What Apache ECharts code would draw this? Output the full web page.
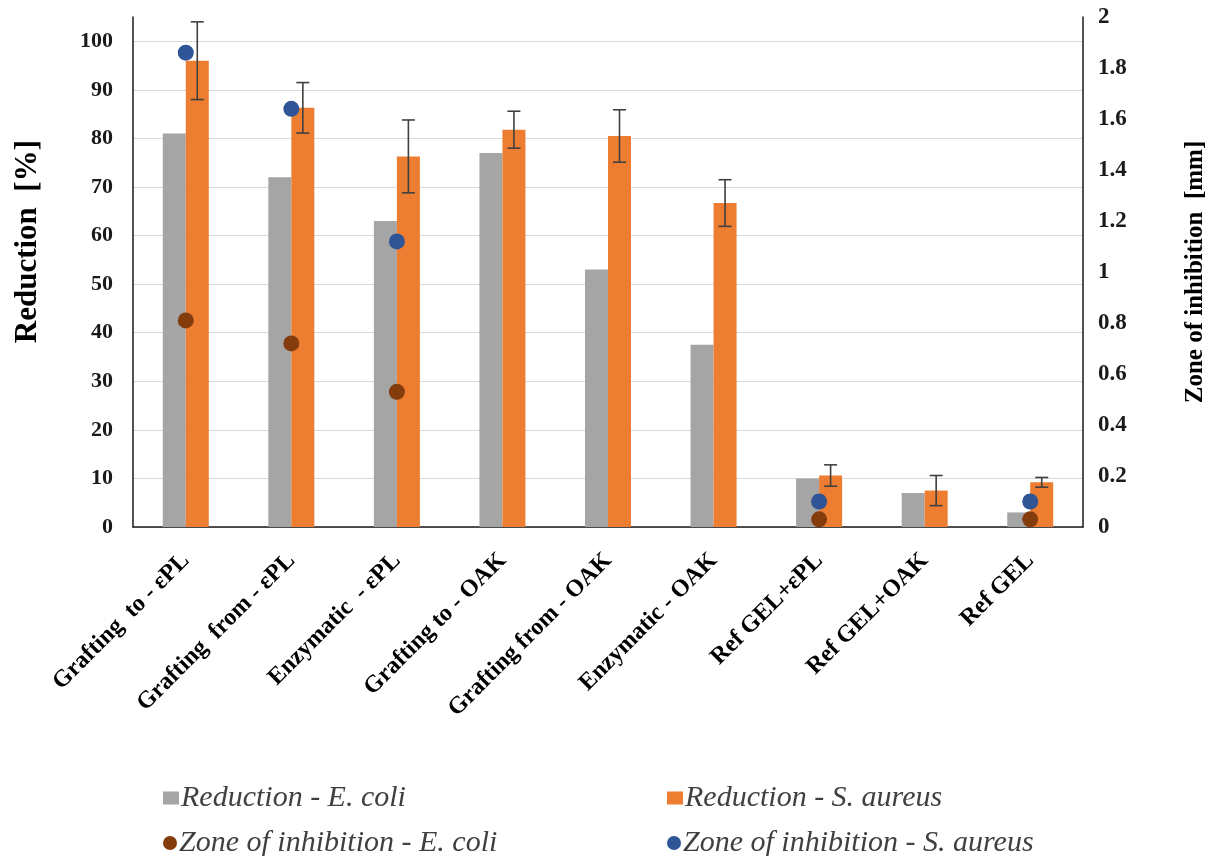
<!DOCTYPE html>
<html>
<head>
<meta charset="utf-8">
<title>Reduction and zone of inhibition</title>
<script src="https://cdn.jsdelivr.net/npm/echarts@6/dist/echarts.min.js"></script>
<style>
  html, body { margin: 0; padding: 0; background: #ffffff; }
  #chart { width: 1222px; height: 856px; }
</style>
</head>
<body>
<div id="chart"></div>
<script>
// Sample groups along the x axis
const categories = [
  'Grafting  to - εPL', 'Grafting  from - εPL', 'Enzymatic  - εPL',
  'Grafting to - OAK', 'Grafting from - OAK', 'Enzymatic - OAK',
  'Ref GEL+εPL', 'Ref GEL+OAK', 'Ref GEL'
];

// Bacterial reduction [%]
const reductionEcoli   = [81, 72, 63, 77, 53, 37.5, 10, 7, 3];
const reductionSaureus = [96, 86.3, 76.3, 81.8, 80.5, 66.7, 10.6, 7.5, 9.2];
// Standard deviation of the S. aureus reduction
const errSaureus       = [8, 5.2, 7.5, 3.8, 5.4, 4.8, 2.2, 3.1, 1.0];

// Zone of inhibition [mm] (no zone measured where null)
const zoneEcoli   = [0.81, 0.72, 0.53, null, null, null, 0.03, null, 0.03];
const zoneSaureus = [1.86, 1.64, 1.12, null, null, null, 0.10, null, 0.10];

// Axis tick ranges
const leftAxisRange  = { min: 0, max: 105, step: 10 };
const rightAxisRange = { min: 0, max: 2, step: 0.2 };

const seriesNames = [
  'Reduction - E. coli',
  'Reduction - S. aureus',
  'Zone of inhibition - E. coli',
  'Zone of inhibition - S. aureus'
];

const COLORS = {
  gray: '#A5A5A5',
  orange: '#ED7D31',
  brown: '#843C0C',
  blue: '#2F5597',
  err: '#404040'
};

const SERIF = '"Liberation Serif", "Times New Roman", serif';
const BAR_W = 23;

const chart = echarts.init(document.getElementById('chart'), null, { renderer: 'canvas' });

function legendBlock(name, left, top, icon, w, h) {
  return {
    data: [{ name: name, icon: icon }],
    left: left,
    top: top,
    itemWidth: w,
    itemHeight: h,
    itemGap: 0,
    selectedMode: false,
    textStyle: {
      fontFamily: SERIF,
      fontStyle: 'italic',
      fontSize: 30,
      color: '#404040',
      padding: [0, 0, 0, -3]
    }
  };
}

const option = {
  backgroundColor: '#ffffff',
  animation: false,
  grid: { left: 133, right: 139, top: 17, bottom: 329, containLabel: false },
  legend: [
    legendBlock(seriesNames[0], 158, 778, 'rect', 16, 13),
    legendBlock(seriesNames[1], 662, 778, 'rect', 16, 13),
    legendBlock(seriesNames[2], 158, 823, 'circle', 14, 14),
    legendBlock(seriesNames[3], 662, 823, 'circle', 14, 14)
  ],
  graphic: [{
    type: 'text',
    left: 12,
    top: 140,
    style: {
      text: 'Reduction  [%]',
      fontFamily: SERIF,
      fontWeight: 'bold',
      fontSize: 31,
      fill: '#000000'
    },
    rotation: Math.PI / 2,
    originX: 0,
    originY: 0
  }],
  xAxis: {
    type: 'category',
    data: categories,
    axisLine: { show: true, lineStyle: { color: '#1a1a1a', width: 1.5 } },
    axisTick: { show: false },
    splitLine: { show: false },
    axisLabel: {
      interval: 0,
      rotate: 45,
      margin: 30,
      fontFamily: SERIF,
      fontWeight: 'bold',
      fontSize: 24,
      color: '#000000'
    }
  },
  yAxis: [{
    type: 'value',
    min: leftAxisRange.min,
    max: leftAxisRange.max,
    interval: leftAxisRange.step,
    position: 'left',
    axisLine: { show: true, lineStyle: { color: '#1a1a1a', width: 1.5 } },
    axisTick: { show: false },
    splitLine: { show: true, showMaxLine: false, lineStyle: { color: '#D9D9D9', width: 1.2 } },
    axisLabel: {
      showMaxLabel: false,
      margin: 20,
      fontFamily: SERIF,
      fontWeight: 'bold',
      fontSize: 22,
      color: '#1a1a1a'
    }
  }, {
    type: 'value',
    min: rightAxisRange.min,
    max: rightAxisRange.max,
    interval: rightAxisRange.step,
    position: 'right',
    name: 'Zone of inhibition  [mm]',
    nameLocation: 'middle',
    nameGap: 100,
    nameRotate: 90,
    nameTextStyle: {
      fontFamily: SERIF,
      fontWeight: 'bold',
      fontSize: 25,
      color: '#000000'
    },
    axisLine: { show: true, lineStyle: { color: '#1a1a1a', width: 1.5 } },
    axisTick: { show: false },
    splitLine: { show: false },
    axisLabel: {
      margin: 15,
      fontFamily: SERIF,
      fontWeight: 'bold',
      fontSize: 23,
      color: '#1a1a1a',
      formatter: function (v) { return String(Math.round(v * 10) / 10); }
    }
  }],
  series: [{
    name: seriesNames[0],
    type: 'bar',
    yAxisIndex: 0,
    data: reductionEcoli,
    barWidth: BAR_W,
    barGap: '0%',
    itemStyle: { color: COLORS.gray },
    z: 2
  }, {
    name: seriesNames[1],
    type: 'bar',
    yAxisIndex: 0,
    data: reductionSaureus,
    barWidth: BAR_W,
    barGap: '0%',
    itemStyle: { color: COLORS.orange },
    z: 2
  }, {
    // error bars on the S. aureus reduction bars
    type: 'custom',
    yAxisIndex: 0,
    z: 3,
    silent: true,
    data: reductionSaureus.map(function (v, i) { return [i, v, errSaureus[i]]; }),
    renderItem: function (params, api) {
      const i = api.value(0);
      const mean = api.value(1);
      const sd = api.value(2);
      const top = api.coord([i, mean + sd]);
      const bot = api.coord([i, mean - sd]);
      const x = top[0] + BAR_W / 2;
      const cap = 6.5;
      const style = { stroke: COLORS.err, lineWidth: 1.6 };
      return {
        type: 'group',
        children: [
          { type: 'line', shape: { x1: x, y1: top[1], x2: x, y2: bot[1] }, style: style },
          { type: 'line', shape: { x1: x - cap, y1: top[1], x2: x + cap, y2: top[1] }, style: style },
          { type: 'line', shape: { x1: x - cap, y1: bot[1], x2: x + cap, y2: bot[1] }, style: style }
        ]
      };
    }
  }, {
    name: seriesNames[2],
    type: 'scatter',
    yAxisIndex: 1,
    data: zoneEcoli,
    symbol: 'circle',
    symbolSize: 16,
    itemStyle: { color: COLORS.brown, opacity: 1 },
    z: 4
  }, {
    name: seriesNames[3],
    type: 'scatter',
    yAxisIndex: 1,
    data: zoneSaureus,
    symbol: 'circle',
    symbolSize: 16,
    itemStyle: { color: COLORS.blue, opacity: 1 },
    z: 4
  }]
};

chart.setOption(option);
</script>
</body>
</html>
